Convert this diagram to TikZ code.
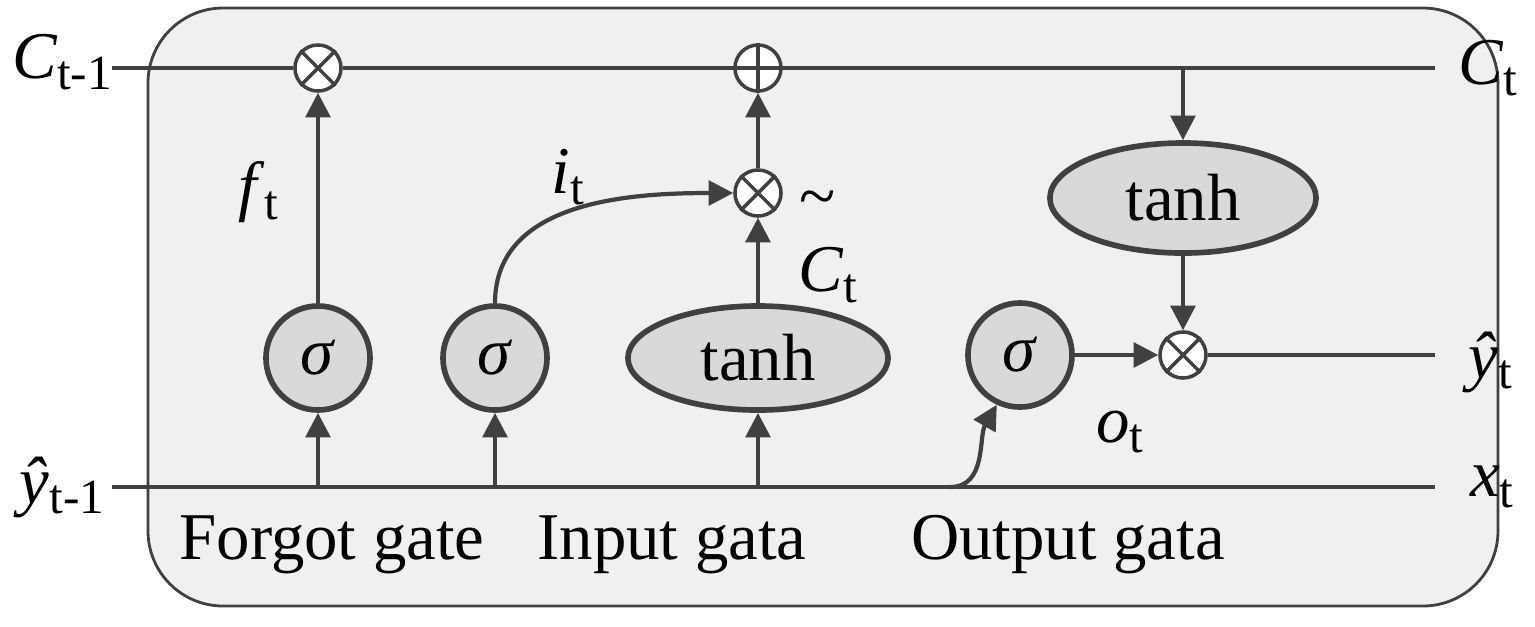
\documentclass[tikz,border=0pt]{standalone}
\usepackage{fontspec}
\setmainfont{Liberation Serif}
\usetikzlibrary{arrows.meta,shapes.geometric}
\definecolor{ln}{HTML}{404040}
\newcommand{\lab}[2]{\textit{#1}\raisebox{-0.35ex}{\fontsize{14}{16}\selectfont #2}}
\begin{document}
\begin{tikzpicture}[x=0.01cm,y=-0.01cm,
  every node/.style={font=\fontsize{19}{22}\selectfont, text=black},
  wire/.style={draw=ln,line width=1.2pt},
  arr/.style={wire,-{Triangle[length=7pt,width=7pt]}},
  gate/.style={circle,draw=ln,line width=1.6pt,fill=black!15,minimum size=1.04cm,inner sep=0pt},
  th/.style={ellipse,draw=ln,line width=1.6pt,fill=black!15,minimum width=2.6cm,minimum height=1.04cm,inner sep=0pt},
  op/.style={circle,draw=ln,line width=1pt,fill=white,minimum size=0.46cm,inner sep=0pt}]
\useasboundingbox (0,0) rectangle (1535,626);
\draw[draw=ln,line width=0.8pt,fill=black!6,rounded corners=0.75cm] (148,8) rectangle (1498,606);
\coordinate (tl) at (112,68); \coordinate (tr) at (1435,68);
\coordinate (bl) at (112,487); \coordinate (br) at (1435,487);
\node[op] (m1) at (318,68) {}; \draw[ln,line width=1pt] (m1.north west)--(m1.south east) (m1.north east)--(m1.south west);
\node[op] (p1) at (758,68) {}; \draw[ln,line width=1pt] (p1.north)--(p1.south) (p1.west)--(p1.east);
\node[op] (m2) at (758,193) {}; \draw[ln,line width=1pt] (m2.north west)--(m2.south east) (m2.north east)--(m2.south west);
\node[op] (m3) at (1183,355) {}; \draw[ln,line width=1pt] (m3.north west)--(m3.south east) (m3.north east)--(m3.south west);
\draw[wire] (tl)--(m1.west) (m1.east)--(p1.west) (p1.east)--(tr);
\draw[wire] (bl)--(br);
\node[gate] (s1) at (318,358) {\textit{σ}};
\node[gate] (s2) at (495,358) {\textit{σ}};
\node[gate] (s3) at (1020,355) {\textit{σ}};
\node[th] (t1) at (758,358) {tanh};
\node[th,minimum width=2.66cm,minimum height=1.1cm] (t2) at (1183,198) {tanh};
\coordinate (b1) at (318,487); \coordinate (b2) at (495,487); \coordinate (b3) at (758,487); \coordinate (b4) at (950,487);
\coordinate (c4) at (1183,68);
\draw[arr] (b1)--(s1); \draw[arr] (b2)--(s2); \draw[arr] (b3)--(t1);
\draw[arr] (b4) to[out=0,in=-120] (s3.-115);
\draw[arr] (s1)--(m1);
\draw[arr] (s2.north) to[out=90,in=180] (m2.west);
\draw[arr] (t1)--(m2); \draw[arr] (m2)--(p1);
\draw[arr] (c4)--(t2); \draw[arr] (t2)--(m3);
\draw[arr] (s3)--(m3);
\coordinate (yr) at (1435,355);
\draw[wire] (m3)--(yr);
\node (lc1) at (62,62) {\lab{C}{t-1}};
\node (lc2) at (1488,68) {\lab{C}{t}};
\node (ly1) at (62,487) {\lab{ŷ}{t-1}};
\node (lx) at (1492,487) {\lab{x}{t}};
\node (ly) at (1490,362) {\lab{ŷ}{t}};
\node (lf) at (258,192) {\lab{f}{t}};
\node (li) at (568,177) {\lab{i}{t}};
\node (lct) at (828,275) {\lab{C}{t}};
\node (tld) at (818,205) {\~{}};
\node (lo) at (1120,432) {\lab{o}{t}};
\node (g1) at (332,545) {Forgot gate};
\node (g2) at (672,545) {Input gata};
\node (g3) at (1068,545) {Output gata};
\end{tikzpicture}
\end{document}
